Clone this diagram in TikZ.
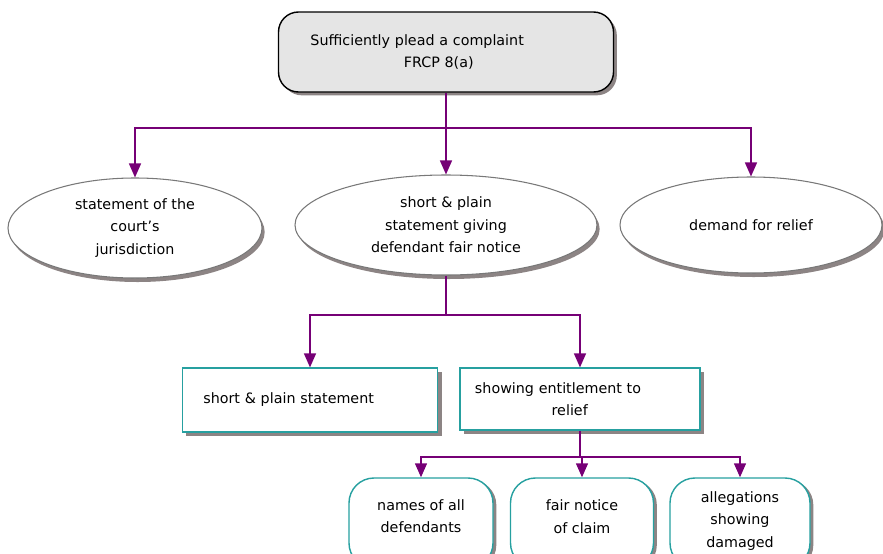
\documentclass[tikz,border=0pt]{standalone}
\usepackage{fontspec}
\setmainfont{DejaVu Sans}
\usepackage{tikz}
\usetikzlibrary{shapes.geometric,shadows,arrows.meta}
\usepackage{xcolor}
\definecolor{linkpurple}{RGB}{118,0,118}
\definecolor{boxteal}{RGB}{38,160,160}
\definecolor{shadegray}{RGB}{140,132,132}
\definecolor{topgray}{RGB}{229,229,229}
\definecolor{ovalgray}{RGB}{120,120,120}

\begin{document}
\begin{tikzpicture}[x=0.03cm,y=-0.03cm,
  font=\fontsize{12.2}{19.2}\selectfont,
  topbox/.style={draw=black, line width=1.2pt, fill=topgray, rounded corners=0.6cm,
    minimum height=2.4cm, text width=8.13cm, inner xsep=0.96cm, align=left,
    drop shadow={shadow xshift=0.1cm, shadow yshift=-0.1cm, fill=shadegray, opacity=1}},
  oval/.style={ellipse, draw=ovalgray, fill=white, line width=0.9pt, inner sep=0pt, align=center,
    drop shadow={shadow xshift=0.08cm, shadow yshift=-0.12cm, fill=shadegray, opacity=1}},
  plainbox/.style={draw=boxteal, line width=1pt, fill=white, align=left,
    drop shadow={shadow xshift=0.12cm, shadow yshift=-0.12cm, fill=shadegray, opacity=1}},
  pill/.style={draw=boxteal, line width=1.2pt, fill=white, rounded corners=0.75cm,
    minimum height=2.7cm, align=center,
    drop shadow={shadow xshift=0.1cm, shadow yshift=-0.06cm, fill=shadegray, opacity=1}},
  link/.style={draw=linkpurple, line width=1.2pt, -{Triangle[length=0.42cm,width=0.36cm]}},
]
\useasboundingbox (0,0) rectangle (883,554);
\clip (0,0) rectangle (883,554);

% top of the tree
\node[topbox] (plead) at (446,52) {Sufficiently plead a complaint\\\hspace*{2.8cm}FRCP 8(a)};

% three parts of the complaint
\node[oval, minimum width=7.62cm, minimum height=3cm] (jur) at (135,228)
  {statement of the\\court's\\jurisdiction};
\node[oval, minimum width=9.06cm, minimum height=3cm] (notice) at (446,225)
  {short \& plain\\statement giving\\defendant fair notice};
\node[oval, minimum width=7.86cm, minimum height=2.88cm] (relief) at (751,225)
  {demand for relief};

\coordinate (split1) at (446,128);
\draw[link] (plead.south) -- (split1) -| (jur.north);
\draw[link] (split1) -- (notice.north);
\draw[link] (split1) -| (relief.north);

% what the notice needs
\node[plainbox, minimum width=7.65cm, minimum height=1.92cm, text width=6.4cm] (plain) at (310,400)
  {short \& plain statement};
\node[plainbox, minimum width=7.2cm, minimum height=1.86cm, text width=6.3cm] (entitle) at (580,399)
  {showing entitlement to\\\hspace*{2.3cm}relief};

\coordinate (split2) at (446,315);
\draw[link] (notice.south) -- (split2) -| (plain.north);
\draw[link] (split2) -| (entitle.north);

% entitlement to relief
\node[pill, minimum width=4.32cm] (names) at (421,523) {names of all\\defendants\\[-0.25cm]};
\node[pill, minimum width=4.29cm] (claim) at (582,523) {fair notice\\of claim\\[-0.3cm]};
\node[pill, minimum width=4.2cm] (damage) at (740,523) {allegations\\showing\\damaged\\[-0.45cm]};

\coordinate (split3) at (580,457);
\draw[link] (entitle.south) -- (split3) -| (names.north);
\draw[link] (split3) -| (claim.north);
\draw[link] (split3) -| (damage.north);
\end{tikzpicture}
\end{document}
